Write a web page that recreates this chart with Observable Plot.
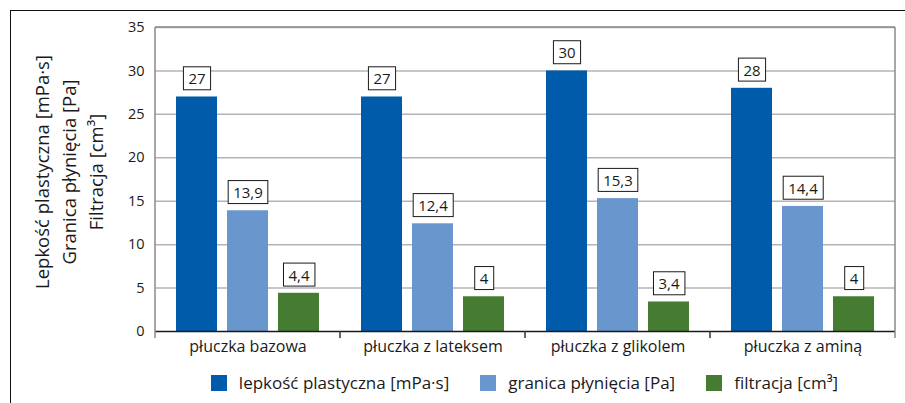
<!DOCTYPE html>
<html><head><meta charset="utf-8">
<script src="https://cdn.jsdelivr.net/npm/d3@7"></script>
<script src="https://cdn.jsdelivr.net/npm/@observablehq/plot@0.6"></script>
<style>
body{margin:0;background:#fff;font-family:"Open Sans",sans-serif;color:#1a1a1a;}
#wrap{position:relative;width:905px;height:403px;overflow:hidden;}
#frame{position:absolute;left:10px;top:10px;width:900px;height:400px;border-left:1.5px solid #111;border-top:1.5px solid #111;pointer-events:none;box-sizing:border-box;}
#legend{position:absolute;left:154px;width:741px;top:371px;display:flex;justify-content:center;gap:31px;font-size:17px;line-height:24px;}
#legend .item{display:flex;align-items:center;gap:12px;white-space:nowrap;}
#legend .sw{width:16px;height:16px;display:inline-block;}
</style>
</head><body>
<div id="wrap"><div id="chart"></div><div id="legend"></div><div id="frame"></div></div>
<script>
const categories = ["płuczka bazowa", "płuczka z lateksem", "płuczka z glikolem", "płuczka z aminą"];
const seriesNames = ["lepkość plastyczna [mPa·s]", "granica płynięcia [Pa]", "filtracja [cm³]"];
const lepkosc = [27, 27, 30, 28];
const granica = [13.9, 12.4, 15.3, 14.4];
const filtracja = [4.4, 4, 3.4, 4];
const colors = ["#005BAA", "#6A96CE", "#467C32"];
const yTicks = [0, 5, 10, 15, 20, 25, 30, 35];
const yTitle = ["Lepkość plastyczna [mPa·s]", "Granica płynięcia [Pa]", "Filtracja [cm³]"];

const seriesValues = [lepkosc, granica, filtracja];
const rows = categories.flatMap((c, i) => seriesNames.map((s, j) => ({cat: c, series: s, value: seriesValues[j][i]})));
const fmt = v => String(v).replace(".", ",");

const plot = Plot.plot({
  width: 905, height: 365,
  marginLeft: 154, marginRight: 10, marginTop: 27, marginBottom: 34,
  style: {fontFamily: "Open Sans", fontSize: "14px", color: "#1a1a1a", background: "white"},
  fx: {domain: categories, padding: 0},
  x: {domain: seriesNames, paddingInner: 0.19, paddingOuter: 0.38},
  y: {domain: [0, 35]},
  color: {domain: seriesNames, range: colors},
  marks: [
    Plot.ruleY(yTicks.filter(d => d > 0), {stroke: "#b4b4b4", strokeWidth: 1.5}),
    Plot.axisY(yTicks, {tickSize: 0, tickPadding: 11, label: null, fontSize: 14.5}),
    Plot.axisFx({anchor: "bottom", tickSize: 0, tickPadding: 9, label: null, fontSize: 16}),
    Plot.axisX({ticks: [], label: null, tickSize: 0}),
    Plot.barY(rows, {fx: "cat", x: "series", y: "value", fill: "series", inset: 0}),
    Plot.ruleY([0], {stroke: "#1a1a1a", strokeWidth: 1.5}),
    Plot.text(rows, {fx: "cat", x: "series", y: "value", text: d => fmt(d.value), dy: -17.5, fontSize: 15, lineAnchor: "middle"})
  ]
});
document.getElementById("chart").appendChild(plot);

const svg = d3.select(plot);
// boxes behind value labels
svg.selectAll('g[aria-label="text"] text').each(function() {
  const b = this.getBBox();
  const cy = b.y + b.height / 2;
  const r = document.createElementNS("http://www.w3.org/2000/svg", "rect");
  r.setAttribute("x", b.x - 5);
  r.setAttribute("y", cy - 11.5);
  r.setAttribute("width", b.width + 10);
  r.setAttribute("height", 23);
  r.setAttribute("fill", "white");
  r.setAttribute("stroke", "#1a1a1a");
  r.setAttribute("stroke-width", 1);
  const t = this.getAttribute("transform");
  if (t) r.setAttribute("transform", t);
  this.parentNode.insertBefore(r, this);
});

const fx = plot.scale("fx"), y = plot.scale("y");
const y0 = y.apply(0), yTop = y.apply(35);
const edges = categories.map(c => fx.apply(c)).concat([fx.range[1]]);
const deco = svg.append("g");
edges.forEach((x, i) => {
  const outer = i === 0 || i === edges.length - 1;
  deco.append("line").attr("x1", x).attr("x2", x)
    .attr("y1", outer ? yTop : y0).attr("y2", y0 + 7)
    .attr("stroke", outer ? "#8a8a8a" : "#333").attr("stroke-width", 1.5);
});
deco.append("line").attr("x1", edges[0]).attr("x2", edges[edges.length - 1])
  .attr("y1", yTop).attr("y2", yTop).attr("stroke", "#8a8a8a").attr("stroke-width", 1.5);

// y title
const yMid = 172;
[49, 76, 103].forEach((bx, i) => {
  svg.append("text").attr("transform", `translate(${bx},${yMid}) rotate(-90)`)
    .attr("text-anchor", "middle").attr("font-size", 18.5).attr("fill", "#1a1a1a")
    .attr("font-family", "Open Sans").text(yTitle[i]);
});

// legend
const leg = d3.select("#legend");
seriesNames.forEach((s, i) => {
  const it = leg.append("div").attr("class", "item");
  it.append("span").attr("class", "sw").style("background", colors[i]);
  it.append("span").text(s);
});
</script>
</body></html>
